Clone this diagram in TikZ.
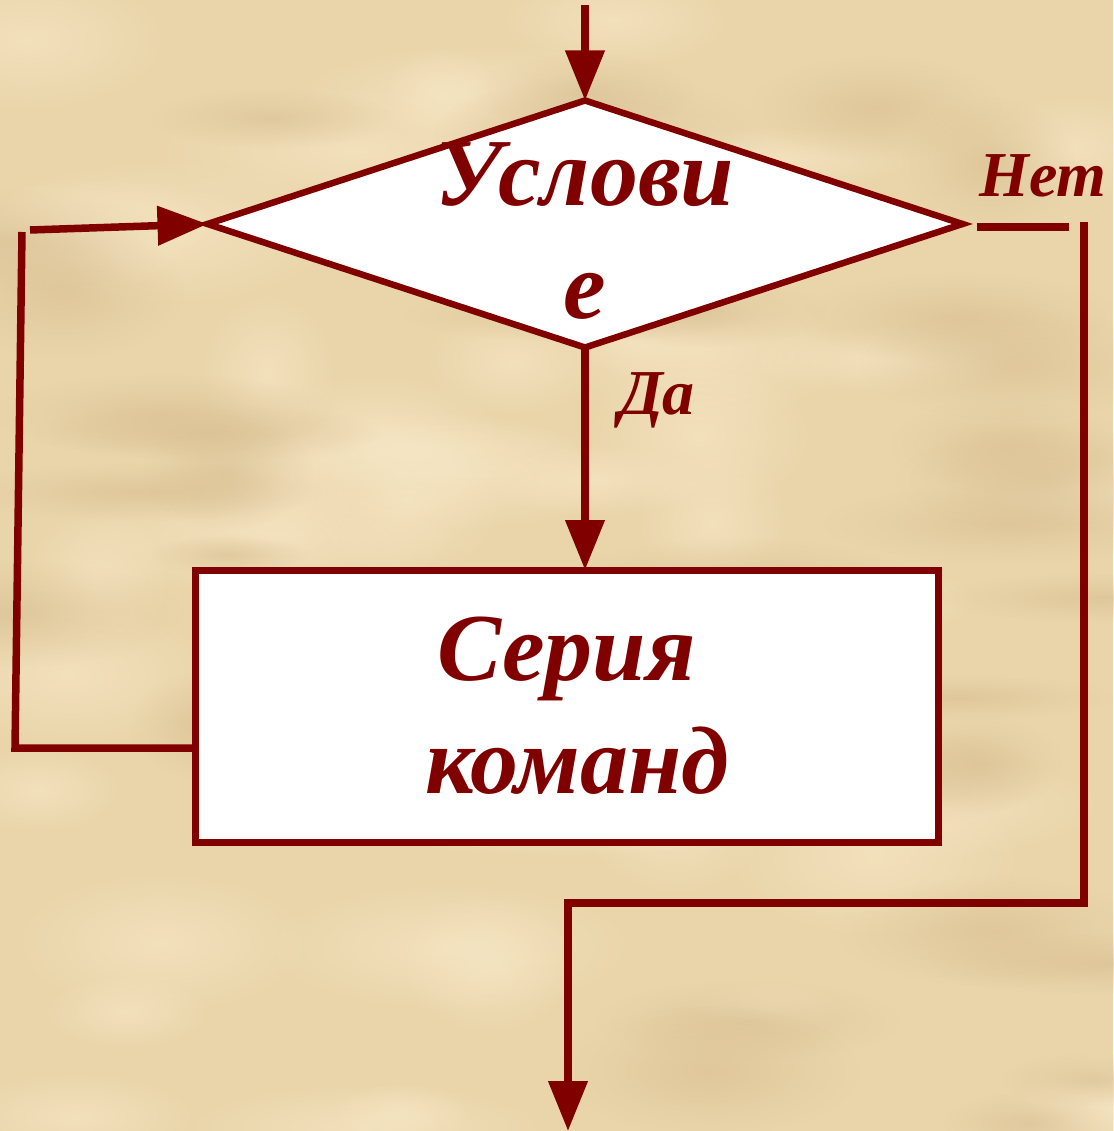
\documentclass[tikz,border=0pt]{standalone}
\usepackage{fontspec}
\setmainfont{Liberation Serif}
\usetikzlibrary{shapes.geometric,arrows.meta,fadings}

\definecolor{ink}{RGB}{128,0,0}
\definecolor{paper}{RGB}{234,213,170}
\definecolor{paperlight}{RGB}{247,231,198}
\definecolor{paperdark}{RGB}{218,192,148}

\tikzfading[name=softspot, inner color=transparent!35, outer color=transparent!100]

\tikzset{
  link/.style={draw=ink, line width=7.5pt},
  arr/.style={link, -{Triangle[length=50pt,width=38pt]}},
  cond/.style={diamond, fill=white, draw=ink, line width=6.5pt,
    minimum width=755pt, minimum height=247pt, inner sep=0pt, outer sep=0pt},
  stmt/.style={rectangle, fill=white, draw=ink, line width=7pt,
    minimum width=743pt, minimum height=272pt, inner sep=0pt, outer sep=0pt},
  big/.style={text=ink, align=center,
    font=\bfseries\itshape\fontsize{96}{113}\selectfont},
  tag/.style={text=ink, font=\bfseries\itshape\fontsize{64}{70}\selectfont},
}

\begin{document}
\begin{tikzpicture}[x=1pt,y=-1pt]

  % parchment
  \useasboundingbox (0,0) rectangle (1113,1131);
  \fill[paper] (0,0) rectangle (1113,1131);
  \pgfmathsetseed{42}
  \foreach \i in {1,...,45}{
    \pgfmathsetmacro{\px}{rnd*1113}
    \pgfmathsetmacro{\py}{rnd*1131}
    \pgfmathsetmacro{\rx}{60+rnd*150}
    \pgfmathsetmacro{\ry}{25+rnd*60}
    \fill[paperlight, path fading=softspot] (\px,\py) ellipse (\rx pt and \ry pt);
  }
  \foreach \i in {1,...,35}{
    \pgfmathsetmacro{\px}{rnd*1113}
    \pgfmathsetmacro{\py}{rnd*1131}
    \pgfmathsetmacro{\rx}{60+rnd*130}
    \pgfmathsetmacro{\ry}{20+rnd*50}
    \fill[paperdark, path fading=softspot] (\px,\py) ellipse (\rx pt and \ry pt);
  }

  % loop body
  \node[cond] (test) at (585,224) {};
  \node[big] (testtext) at (585,231) {Услови\\е};
  \node[stmt, big] (body) at (566.5,706) {Серия\\\hspace*{22pt}команд};

  \node[tag] (yes) at (657,400) {Да};
  \node[tag] (no) at (1043,176) {Нет};

  \coordinate (entry) at (585,5);
  \coordinate (backturn) at (15,748);
  \coordinate (backtop) at (22,232);
  \coordinate (backin) at (30,230);
  \coordinate (nodown) at (1084,222);
  \coordinate (joinR) at (1084,903);
  \coordinate (joinL) at (568,903);
  \coordinate (exit) at (568,1131);

  \draw[arr] (entry) -- (test.north);
  \draw[arr] (test.south) -- (test.south |- body.north);

  \draw[link] (body.west |- backturn) -- (backturn) -- (backtop);
  \draw[arr] (backin) -- (test.west);

  \draw[link] ([xshift=14pt,yshift=-3pt]test.east) -- ++(92,0);
  \draw[arr] (nodown) -- (joinR) -- (joinL) -- (exit);

\end{tikzpicture}
\end{document}
